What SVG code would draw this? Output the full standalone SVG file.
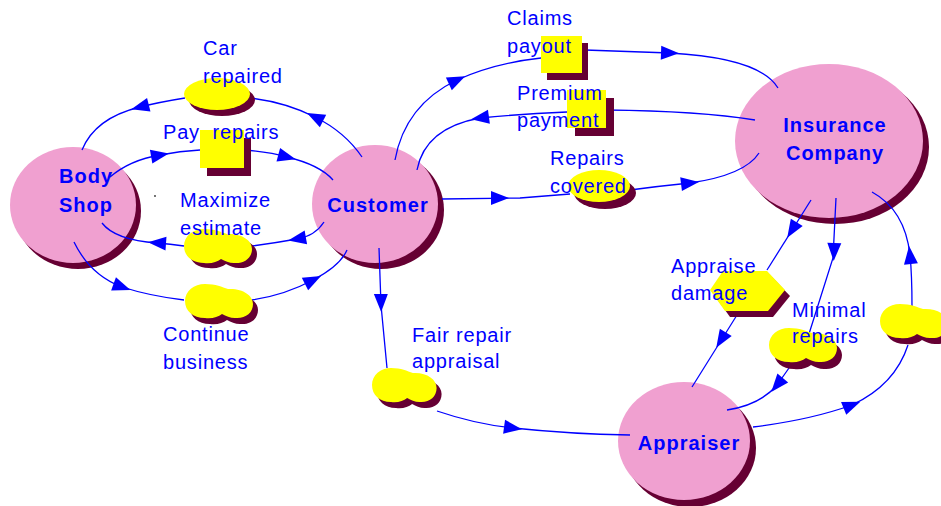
<svg xmlns="http://www.w3.org/2000/svg" xmlns:xlink="http://www.w3.org/1999/xlink" width="941" height="506" viewBox="0 0 941 506">
  <style>
    .pink { fill: #F0A0D0; }
    .shade { fill: #660033; }
    .yel { fill: #FFFF00; }
    .conn { fill: none; stroke: #0000FF; stroke-width: 1.3; }
    .ah { fill: #0000FF; }
    .lbl { font-family: "Liberation Sans", Arial, sans-serif; font-size: 20px; fill: #0000FF; letter-spacing: 0.8px; white-space: pre; }
    .nlbl { font-family: "Liberation Sans", Arial, sans-serif; font-size: 20px; font-weight: bold; fill: #0000FF; text-anchor: middle; letter-spacing: 1px; }
  </style>
  <defs>
    <!-- solid arrowhead placed mid-line, tip along +x -->
    <path id="ah" d="M9,0 L-9,-7 L-9,7 Z"/>
    <!-- two-lobed blob, about 68 x 34 -->
    <path id="cloud" d="M20,0 C31,0 37,3 43,5 C57,4 68,11 68,20 C68,29 60,35 50,34 C45,34 41,32 37,30 C33,33 27,35 20,34 C8,34 0,27 0,17 C0,7 9,0 20,0 Z"/>
  </defs>

  <rect width="941" height="506" fill="#FFFFFF"/>

  <!-- actors -->
  <g id="body-shop">
    <ellipse class="shade" cx="78" cy="211" rx="63" ry="58"/>
    <ellipse class="pink" cx="73" cy="205" rx="63" ry="58"/>
    <text class="nlbl" x="86" y="183">Body</text>
    <text class="nlbl" x="86" y="212">Shop</text>
  </g>
  <g id="customer">
    <ellipse class="shade" cx="381" cy="210" rx="63" ry="59"/>
    <ellipse class="pink" cx="375" cy="204" rx="63" ry="59"/>
    <text class="nlbl" x="378" y="212">Customer</text>
  </g>
  <g id="insurance-company">
    <ellipse class="shade" cx="835" cy="147" rx="94" ry="77"/>
    <ellipse class="pink" cx="829" cy="141" rx="94" ry="77"/>
    <text class="nlbl" x="835" y="132">Insurance</text>
    <text class="nlbl" x="835" y="160">Company</text>
  </g>
  <g id="appraiser">
    <ellipse class="shade" cx="690" cy="448" rx="66" ry="59"/>
    <ellipse class="pink" cx="684" cy="441" rx="66" ry="59"/>
    <text class="nlbl" x="689" y="450">Appraiser</text>
  </g>

  <!-- flows -->
  <g id="connectors">
    <path class="conn" d="M362,157 Q345,132 315,117 Q285,102 250,98"/>
    <path class="conn" d="M185,98 Q160,102 140,107 Q95,118 82,150"/>
    <path class="conn" d="M110,177 Q130,160 160,155 Q180,151 200,150"/>
    <path class="conn" d="M244,150 Q270,152 287,157 Q320,165 333,180"/>
    <path class="conn" d="M324,222 Q315,236 297,239 Q275,243 252,246"/>
    <path class="conn" d="M184,246 Q170,244 157,243 Q115,240 102,223"/>
    <path class="conn" d="M74,242 Q90,275 122,287 Q150,296 184,300"/>
    <path class="conn" d="M252,300 Q285,295 313,280 Q340,266 347,250"/>
    <path class="conn" d="M395,160 Q405,105 457,80 Q495,63 541,58"/>
    <path class="conn" d="M585,50 L670,53 Q760,58 778,88"/>
    <path class="conn" d="M755,120 Q700,111 606,110"/>
    <path class="conn" d="M567,112 Q520,114 480,118 Q425,128 417,170"/>
    <path class="conn" d="M442,199 L520,198 L570,194"/>
    <path class="conn" d="M630,190 Q660,186 690,183 Q745,175 759,153"/>
    <path class="conn" d="M811,200 L767,270"/>
    <path class="conn" d="M737,315 L692,387"/>
    <path class="conn" d="M836,198 L833,258 L808,337"/>
    <path class="conn" d="M789,368 Q782,378 777,385 Q760,405 727,410"/>
    <path class="conn" d="M753,427 Q810,420 852,405 Q895,385 908,345"/>
    <path class="conn" d="M912,307 Q912,275 910,255 Q905,210 872,192"/>
    <path class="conn" d="M379,248 L381,305 L387,368"/>
    <path class="conn" d="M437,411 Q475,424 513,428 Q570,434 630,435"/>

    <use class="ah" xlink:href="#ah" transform="translate(315,117) rotate(207)"/>
    <use class="ah" xlink:href="#ah" transform="translate(140,107) rotate(166)"/>
    <use class="ah" xlink:href="#ah" transform="translate(160,155) rotate(-10)"/>
    <use class="ah" xlink:href="#ah" transform="translate(287,157) rotate(15)"/>
    <use class="ah" xlink:href="#ah" transform="translate(297,239) rotate(170)"/>
    <use class="ah" xlink:href="#ah" transform="translate(157,243) rotate(184)"/>
    <use class="ah" xlink:href="#ah" transform="translate(122,287) rotate(20)"/>
    <use class="ah" xlink:href="#ah" transform="translate(313,280) rotate(-27)"/>
    <use class="ah" xlink:href="#ah" transform="translate(457,80) rotate(-25)"/>
    <use class="ah" xlink:href="#ah" transform="translate(670,53) rotate(2)"/>
    <use class="ah" xlink:href="#ah" transform="translate(480,118) rotate(172)"/>
    <use class="ah" xlink:href="#ah" transform="translate(500,198) rotate(0)"/>
    <use class="ah" xlink:href="#ah" transform="translate(690,183) rotate(-7)"/>
    <use class="ah" xlink:href="#ah" transform="translate(792,230) rotate(122)"/>
    <use class="ah" xlink:href="#ah" transform="translate(721,340) rotate(122)"/>
    <use class="ah" xlink:href="#ah" transform="translate(834,252) rotate(92)"/>
    <use class="ah" xlink:href="#ah" transform="translate(777,385) rotate(130)"/>
    <use class="ah" xlink:href="#ah" transform="translate(852,405) rotate(-22)"/>
    <use class="ah" xlink:href="#ah" transform="translate(910,255) rotate(-96)"/>
    <use class="ah" xlink:href="#ah" transform="translate(381,303) rotate(89)"/>
    <use class="ah" xlink:href="#ah" transform="translate(513,428) rotate(8)"/>
  </g>

  <!-- exchanged items -->
  <g id="car-repaired">
    <ellipse class="shade" cx="222" cy="100" rx="33" ry="16"/>
    <ellipse class="yel" cx="217" cy="94" rx="33" ry="16"/>
    <text class="lbl" x="203" y="55">Car</text>
    <text class="lbl" x="203" y="83">repaired</text>
  </g>
  <g id="pay-repairs">
    <rect class="shade" x="207" y="138" width="44" height="38"/>
    <rect class="yel" x="200" y="130" width="44" height="38"/>
    <text class="lbl" x="163" y="139">Pay  repairs</text>
  </g>
  <g id="maximize-estimate">
    <use class="shade" xlink:href="#cloud" transform="translate(189,234)"/>
    <use class="yel" xlink:href="#cloud" transform="translate(184,229)"/>
    <text class="lbl" x="180" y="207">Maximize</text>
    <text class="lbl" x="180" y="235">estimate</text>
  </g>
  <g id="continue-business">
    <use class="shade" xlink:href="#cloud" transform="translate(190,290)"/>
    <use class="yel" xlink:href="#cloud" transform="translate(185,284)"/>
    <text class="lbl" x="163" y="341">Continue</text>
    <text class="lbl" x="163" y="369">business</text>
  </g>
  <g id="claims-payout">
    <rect class="shade" x="547" y="43" width="41" height="37"/>
    <rect class="yel" x="541" y="36" width="41" height="37"/>
    <text class="lbl" x="507" y="25">Claims</text>
    <text class="lbl" x="507" y="53">payout</text>
  </g>
  <g id="premium-payment">
    <rect class="shade" x="575" y="98" width="39" height="38"/>
    <rect class="yel" x="567" y="90" width="39" height="38"/>
    <text class="lbl" x="517" y="100">Premium</text>
    <text class="lbl" x="517" y="127">payment</text>
  </g>
  <g id="repairs-covered">
    <ellipse class="shade" cx="605" cy="193" rx="31" ry="16"/>
    <ellipse class="yel" cx="599" cy="186" rx="31" ry="16"/>
    <text class="lbl" x="550" y="165">Repairs</text>
    <text class="lbl" x="550" y="193">covered</text>
  </g>
  <g id="appraise-damage">
    <polygon class="shade" points="728,277 772,277 790,296 773,317 730,317 715,296"/>
    <polygon class="yel" points="723,271 767,271 785,290 768,311 725,311 710,290"/>
    <text class="lbl" x="671" y="273">Appraise</text>
    <text class="lbl" x="671" y="300">damage</text>
  </g>
  <g id="minimal-repairs">
    <use class="shade" xlink:href="#cloud" transform="translate(774,335)"/>
    <use class="yel" xlink:href="#cloud" transform="translate(769,328)"/>
    <text class="lbl" x="792" y="317">Minimal</text>
    <text class="lbl" x="792" y="343">repairs</text>
  </g>
  <g id="fair-repair-appraisal">
    <use class="shade" xlink:href="#cloud" transform="translate(377,374) scale(0.95,1)"/>
    <use class="yel" xlink:href="#cloud" transform="translate(372,368) scale(0.95,1)"/>
    <text class="lbl" x="412" y="342">Fair repair</text>
    <text class="lbl" x="412" y="368">appraisal</text>
  </g>
  <g id="repair-bill">
    <use class="shade" xlink:href="#cloud" transform="translate(885,310)"/>
    <use class="yel" xlink:href="#cloud" transform="translate(880,304)"/>
  </g>

  <circle cx="155" cy="196" r="0.9" fill="#333333"/>
</svg>
